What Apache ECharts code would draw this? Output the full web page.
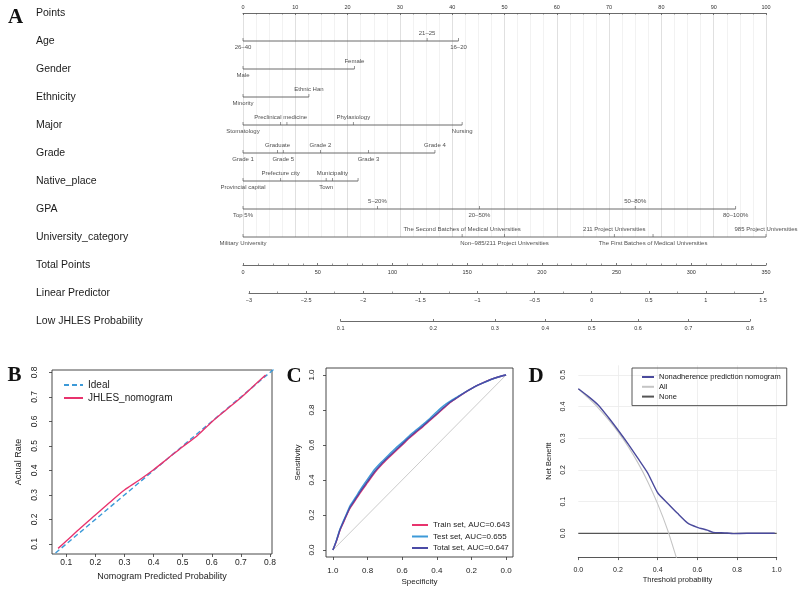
<!DOCTYPE html>
<html><head><meta charset="utf-8">
<script src="https://cdn.jsdelivr.net/npm/echarts@6/dist/echarts.min.js"></script>
<style>html,body{margin:0;padding:0;background:#fff}#c{width:800px;height:597px}</style>
</head><body><div id="c"></div><script>
// ---------- Nomogram data ----------
const rowNames = ['Points','Age','Gender','Ethnicity','Major','Grade','Native_place','GPA','University_category','Total Points','Linear Predictor','Low JHLES Probability'];
const pointsTicks = [0,100];
const ageLevels = ['26–40','21–25','16–20'];
const agePoints = [0,35.2,41.2];
const genderLevels = ['Male','Female'];
const genderPoints = [0,21.3];
const ethnicityLevels = ['Minority','Ethnic Han'];
const ethnicityPoints = [0,12.6];
const majorLevels = ['Stomatology','Preclinical medicine','','Phylaxiology','Nursing'];
const majorPoints = [0,7.2,8.4,21.1,41.9];
const gradeLevels = ['Grade 1','Graduate','Grade 5','Grade 2','Grade 3','Grade 4'];
const gradePoints = [0,6.6,7.7,14.8,24.0,36.7];
const nativeLevels = ['Provincial capital','Prefecture city','Town','Municipality',''];
const nativePoints = [0,7.2,15.9,17.1,22.0];
const gpaLevels = ['Top 5%','5–20%','20–50%','50–80%','80–100%'];
const gpaPoints = [0,25.7,45.2,75.0,94.2];
const univLevels = ['Military University','The Second Batches of Medical Universities','Non–985/211 Project Universities','211 Project Universities','The First Batches of Medical Universities','985 Project Universities'];
const univPoints = [0,41.9,50.0,71.0,78.4,100];
const totalRange = [0,350];
const lpRange = [-3,1.5];
const probTicks = [0.1,0.2,0.3,0.4,0.5,0.6,0.7,0.8];

// ---------- Calibration (B) ----------
const idealX = [0,1];
const idealY = [0,1];
const calPred = [0.072,0.1,0.15,0.2,0.25,0.3,0.35,0.4,0.45,0.5,0.55,0.6,0.65,0.7,0.75,0.785];
const calObs  = [0.082,0.112,0.166,0.218,0.27,0.32,0.36,0.403,0.45,0.497,0.542,0.598,0.648,0.697,0.752,0.79];
const calTicks = [0.1,0.2,0.3,0.4,0.5,0.6,0.7,0.8];

// ---------- ROC (C) ----------
const rocSpec   = [1,0.98,0.96,0.94,0.92,0.9,0.87,0.84,0.8,0.76,0.72,0.68,0.64,0.6,0.56,0.52,0.48,0.44,0.4,0.36,0.32,0.28,0.24,0.2,0.16,0.12,0.08,0.04,0];
const trainSens = [0,0.05,0.11,0.155,0.2,0.24,0.285,0.33,0.385,0.44,0.485,0.525,0.563,0.6,0.638,0.672,0.705,0.74,0.775,0.81,0.845,0.872,0.898,0.922,0.943,0.962,0.978,0.99,1];
const testSens  = [0,0.055,0.118,0.165,0.21,0.255,0.3,0.348,0.405,0.46,0.503,0.542,0.58,0.615,0.652,0.685,0.718,0.752,0.79,0.825,0.852,0.876,0.9,0.922,0.943,0.96,0.977,0.99,1];
const totalSens = [0,0.052,0.113,0.16,0.204,0.246,0.291,0.337,0.392,0.447,0.492,0.531,0.569,0.605,0.643,0.677,0.709,0.744,0.779,0.814,0.847,0.873,0.899,0.922,0.943,0.961,0.977,0.99,1];
const chanceSpec = [1,0];
const chanceSens = [0,1];
const rocTicks = [0,0.2,0.4,0.6,0.8,1];
const rocNames = ['Train set, AUC=0.643','Test set, AUC=0.655','Total set, AUC=0.647'];

// ---------- DCA (D) ----------
const dcaT    = [0,0.05,0.1,0.15,0.2,0.25,0.3,0.35,0.4,0.45,0.5,0.55,0.6,0.65,0.68,0.72,0.75,0.78,0.85,0.92,0.99];
const dcaNomo = [0.456,0.432,0.405,0.367,0.326,0.283,0.237,0.19,0.128,0.095,0.063,0.033,0.019,0.01,0.003,0.002,0.001,-0.001,0,0,0];
const dcaAllT = [0,0.05,0.1,0.15,0.2,0.25,0.3,0.35,0.4,0.45,0.5];
const dcaAll  = [0.456,0.427,0.396,0.36,0.32,0.275,0.223,0.163,0.093,0.011,-0.088];
const dcaNoneT = [0,1];
const dcaNone  = [0,0];
const dcaYTicks = [0,0.1,0.2,0.3,0.4,0.5];
const dcaNames = ['Nonadherence prediction nomogram','All','None'];

// ---------- build ----------
const FONT = '"Liberation Sans", Arial, sans-serif';
const logit = p => Math.log(p/(1-p));
const zip = (a,b) => a.map((v,i)=>[v,b[i]]);
const fmt1 = v => (Math.round(v*10)/10).toFixed(1);
const minus = s => String(s).replace('-', '−');

const nomoVars = [
  ['Age', ageLevels, agePoints],
  ['Gender', genderLevels, genderPoints],
  ['Ethnicity', ethnicityLevels, ethnicityPoints],
  ['Major', majorLevels, majorPoints],
  ['Grade', gradeLevels, gradePoints],
  ['Native_place', nativeLevels, nativePoints],
  ['GPA', gpaLevels, gpaPoints],
  ['University_category', univLevels, univPoints]
];

const series = [];
const lineCol = '#5a5a5a';
nomoVars.forEach(([row, levels, pts]) => {
  const maxP = Math.max(...pts);
  series.push({type:'line', xAxisIndex:0, yAxisIndex:0, data:[[0,row],[maxP,row]], symbol:'none',
    lineStyle:{color:lineCol, width:0.9}, silent:true, z:3});
  const order = pts.map((p,i)=>i).sort((a,b)=>pts[a]-pts[b]);
  const side = {};
  order.forEach((idx,k)=>{ side[idx] = (k%2===0) ? 'bottom' : 'top'; });
  series.push({type:'scatter', xAxisIndex:0, yAxisIndex:0, symbol:'rect', symbolSize:[0.8,3], symbolOffset:[0,-1.5],
    itemStyle:{color:lineCol}, silent:true, z:4,
    data: levels.map((l,i)=>({name:l, value:[pts[i],row],
      label:{show:true, position: side[i], distance: side[i]==='top'?1.2:3.2}})),
    label:{show:true, formatter:p=>p.name, fontSize:6, color:'#222', fontFamily:FONT}
  });
});

// B
series.push({name:'Ideal', type:'line', xAxisIndex:5, yAxisIndex:5, data:zip(idealX,idealY), symbol:'none',
  lineStyle:{color:'#3d9ad8', width:1.4, type:[5,3]}, itemStyle:{color:'#3d9ad8'}, clip:true, z:3});
series.push({name:'JHLES_nomogram', type:'line', xAxisIndex:5, yAxisIndex:5, data:zip(calPred,calObs), symbol:'none', smooth:0.3,
  lineStyle:{color:'#e8336d', width:1.4}, itemStyle:{color:'#e8336d'}, z:4});

// C
series.push({type:'line', xAxisIndex:6, yAxisIndex:6, data:zip(chanceSpec,chanceSens), symbol:'none',
  lineStyle:{color:'#cccccc', width:1}, silent:true, z:2});
const rocCols = ['#e8336d','#3d9ad8','#4b4ba6'];
[trainSens,testSens,totalSens].forEach((s,i)=>{
  series.push({name:rocNames[i], type:'line', xAxisIndex:6, yAxisIndex:6, data:zip(rocSpec,s), symbol:'none', smooth:0.2,
    lineStyle:{color:rocCols[i], width:1.4}, itemStyle:{color:rocCols[i]}, z:3+i});
});

// D
series.push({name:dcaNames[0], type:'line', xAxisIndex:7, yAxisIndex:7, data:zip(dcaT,dcaNomo), symbol:'none', smooth:0.2,
  lineStyle:{color:'#4a4a9c', width:1.4}, itemStyle:{color:'#4a4a9c'}, z:5});
series.push({name:dcaNames[1], type:'line', xAxisIndex:7, yAxisIndex:7, data:zip(dcaAllT,dcaAll), symbol:'none', smooth:0.2,
  lineStyle:{color:'#c4c4c4', width:1.1}, itemStyle:{color:'#c4c4c4'}, clip:true, z:4});
series.push({name:dcaNames[2], type:'line', xAxisIndex:7, yAxisIndex:7, data:zip(dcaNoneT,dcaNone), symbol:'none',
  lineStyle:{color:'#555555', width:1.2}, itemStyle:{color:'#555555'}, z:3});

// grid geometry
const NL = 243, NW = 523;
const LPL = 249, LPW = 514;
const lpX = v => LPL + (v-lpRange[0])/(lpRange[1]-lpRange[0])*LPW;
const pMinLp = logit(probTicks[0]), pMaxLp = logit(probTicks[probTicks.length-1]);

const smallAx = {color:'#333', fontSize:5.5, fontFamily:FONT};
const axLine = {show:true, onZero:false, lineStyle:{color:lineCol, width:0.9}};
const noLine = {show:false, onZero:false};

const grids = [
  {left:NL, width:NW, top:13, height:308},
  {left:NL, width:NW, top:13, height:224},
  {left:NL, width:NW, top:264, height:1},
  {left:LPL, width:LPW, top:292, height:1},
  {left:lpX(pMinLp), width:lpX(pMaxLp)-lpX(pMinLp), top:320, height:1},
  {left:52, top:370, width:220, height:184, show:true, borderColor:'#333', borderWidth:0.9},
  {left:326, top:368, width:187, height:189, show:true, borderColor:'#333', borderWidth:0.9},
  {left:578.3, top:365.3, width:198.4, height:191.8}
];

const xAxes = [
  {gridIndex:0, type:'value', min:0, max:100, show:false},
  {gridIndex:1, type:'value', position:'top', min:pointsTicks[0], max:pointsTicks[1], interval:10,
    axisLine:axLine, axisTick:{show:true, inside:true, length:2, lineStyle:{color:lineCol,width:0.8}},
    minorTick:{show:true, splitNumber:4, length:1.5, lineStyle:{color:lineCol,width:0.6}},
    axisLabel:Object.assign({margin:3}, smallAx),
    splitLine:{show:true, lineStyle:{color:'#d2d2d2', width:0.7}},
    minorSplitLine:{show:true, lineStyle:{color:'#ececec', width:0.7}}},
  {gridIndex:2, type:'value', position:'bottom', min:totalRange[0], max:totalRange[1], interval:50,
    axisLine:axLine, axisTick:{show:true, inside:true, length:2, lineStyle:{color:lineCol,width:0.8}},
    minorTick:{show:true, splitNumber:5, length:1.5, lineStyle:{color:lineCol,width:0.6}},
    axisLabel:Object.assign({margin:4}, smallAx), splitLine:{show:false}},
  {gridIndex:3, type:'value', position:'bottom', min:lpRange[0], max:lpRange[1], interval:0.5,
    axisLine:axLine, axisTick:{show:true, inside:true, length:2, lineStyle:{color:lineCol,width:0.8}},
    minorTick:{show:true, splitNumber:2, length:1.5, lineStyle:{color:lineCol,width:0.6}},
    axisLabel:Object.assign({margin:4, formatter:v=>minus(v)}, smallAx), splitLine:{show:false}},
  {gridIndex:4, type:'value', position:'bottom', min:pMinLp, max:pMaxLp,
    axisLine:axLine, axisTick:{show:true, inside:true, length:2, customValues:probTicks.map(logit), lineStyle:{color:lineCol,width:0.8}},
    axisLabel:Object.assign({margin:4, customValues:probTicks.map(logit), formatter:v=>String(Math.round(10/(1+Math.exp(-v)))/10)}, smallAx),
    splitLine:{show:false}},
  {gridIndex:5, type:'value', position:'bottom', min:0.051, max:0.807, axisLine:noLine,
    axisTick:{show:true, length:3, customValues:calTicks, lineStyle:{color:'#333',width:0.8}},
    axisLabel:{customValues:calTicks, fontSize:8.5, margin:4, color:'#222', fontFamily:FONT, formatter:fmt1},
    splitLine:{show:false}, name:'Nomogram Predicted Probability', nameLocation:'middle', nameGap:18,
    nameTextStyle:{fontSize:9, color:'#222', fontFamily:FONT}},
  {gridIndex:6, type:'value', position:'bottom', inverse:true, min:-0.04, max:1.04, axisLine:noLine,
    axisTick:{show:true, length:3, customValues:rocTicks, lineStyle:{color:'#333',width:0.8}},
    axisLabel:{customValues:rocTicks, fontSize:8, margin:10, color:'#222', fontFamily:FONT, formatter:fmt1},
    splitLine:{show:false}, name:'Specificity', nameLocation:'middle', nameGap:21,
    nameTextStyle:{fontSize:8, color:'#222', fontFamily:FONT}},
  {gridIndex:7, type:'value', position:'bottom', min:0, max:1, interval:0.2,
    axisLine:{show:true, onZero:false, lineStyle:{color:'#444',width:0.9}},
    axisTick:{show:true, length:3, lineStyle:{color:'#444',width:0.8}},
    axisLabel:{fontSize:7, margin:9, color:'#222', fontFamily:FONT, formatter:fmt1},
    splitLine:{show:true, showMinLine:false, lineStyle:{color:'#ebebeb', width:0.8}},
    name:'Threshold probability', nameLocation:'middle', nameGap:19,
    nameTextStyle:{fontSize:7.5, color:'#222', fontFamily:FONT}}
];

const yAxes = [
  {gridIndex:0, type:'category', data:rowNames, inverse:true, boundaryGap:false,
    axisLine:{show:false}, axisTick:{show:false}, splitLine:{show:false},
    axisLabel:{interval:0, align:'left', margin:NL-36, fontSize:10.5, color:'#1a1a1a', fontFamily:FONT}},
  {gridIndex:1, type:'value', min:0, max:1, show:false},
  {gridIndex:2, type:'value', min:0, max:1, show:false},
  {gridIndex:3, type:'value', min:0, max:1, show:false},
  {gridIndex:4, type:'value', min:0, max:1, show:false},
  {gridIndex:5, type:'value', position:'left', min:0.059, max:0.81, axisLine:noLine,
    axisTick:{show:true, length:3, customValues:calTicks, lineStyle:{color:'#333',width:0.8}},
    axisLabel:{customValues:calTicks, rotate:90, fontSize:8.5, margin:13, color:'#222', fontFamily:FONT, formatter:fmt1},
    splitLine:{show:false}, name:'Actual Rate', nameLocation:'middle', nameGap:29, nameRotate:90,
    nameTextStyle:{fontSize:9, color:'#222', fontFamily:FONT}},
  {gridIndex:6, type:'value', position:'left', min:-0.04, max:1.04, axisLine:noLine,
    axisTick:{show:true, length:3, customValues:rocTicks, lineStyle:{color:'#333',width:0.8}},
    axisLabel:{customValues:rocTicks, rotate:90, fontSize:8, margin:10, color:'#222', fontFamily:FONT, formatter:fmt1},
    splitLine:{show:false}, name:'Sensitivity', nameLocation:'middle', nameGap:24, nameRotate:90,
    nameTextStyle:{fontSize:8, color:'#222', fontFamily:FONT}},
  {gridIndex:7, type:'value', position:'left', min:-0.075, max:0.53, axisLine:noLine,
    axisTick:{show:false, customValues:dcaYTicks},
    axisLabel:{customValues:dcaYTicks, rotate:90, fontSize:7, margin:12, color:'#222', fontFamily:FONT, formatter:fmt1},
    splitLine:{show:true, lineStyle:{color:'#ebebeb', width:0.8}},
    name:'Net Benefit', nameLocation:'middle', nameGap:25, nameRotate:90,
    nameTextStyle:{fontSize:7.5, color:'#222', fontFamily:FONT}}
];

const legendCommon = {orient:'vertical', selectedMode:false, itemStyle:{opacity:0}};
const legends = [
  Object.assign({data:['Ideal','JHLES_nomogram'], left:58, top:375, itemWidth:19, itemHeight:8, itemGap:3,
    textStyle:{fontSize:10, color:'#222', fontFamily:FONT}}, legendCommon),
  Object.assign({data:rocNames, left:406, top:516, itemWidth:16, itemHeight:8, itemGap:3.5,
    textStyle:{fontSize:8, color:'#222', fontFamily:FONT}}, legendCommon),
  Object.assign({data:dcaNames, left:632, top:368, itemWidth:12, itemHeight:7, itemGap:1.8,
    padding:[5,6,5,9], borderColor:'#444', borderWidth:0.9,
    textStyle:{fontSize:7.5, color:'#222', fontFamily:FONT}}, legendCommon)
];

const letter = (t,x,y) => ({type:'text', x:x, y:y, style:{text:t, font:'bold 21px "Liberation Serif", "Times New Roman", serif', fill:'#111', align:'center', verticalAlign:'middle'}});

const chart = echarts.init(document.getElementById('c'), null, {renderer:'canvas'});
chart.setOption({
  animation:false,
  backgroundColor:'#fff',
  textStyle:{fontFamily:FONT},
  grid:grids, xAxis:xAxes, yAxis:yAxes, legend:legends, series:series,
  graphic:[letter('A',15.5,18), letter('B',14.5,376), letter('C',294,376.5), letter('D',536,376.5)]
});
</script></body></html>
